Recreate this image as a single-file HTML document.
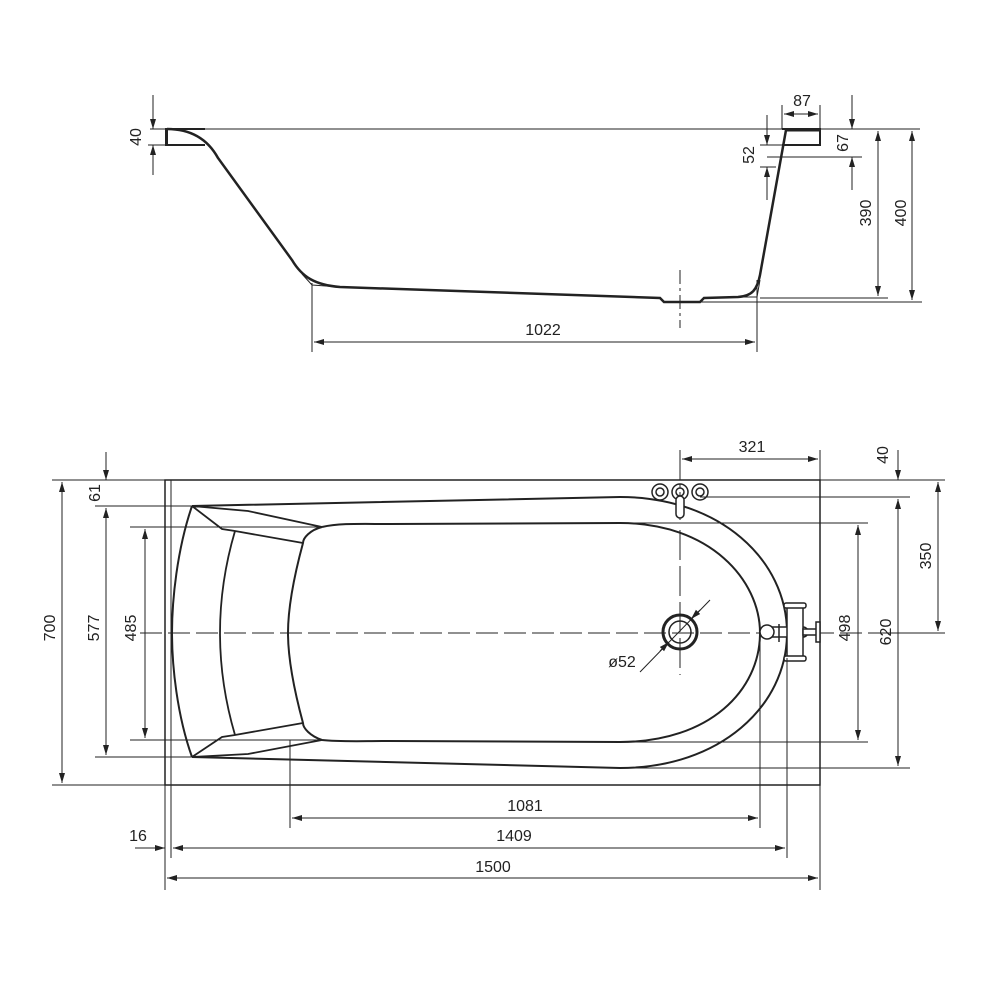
<!DOCTYPE html>
<html><head><meta charset="utf-8"><style>
html,body{margin:0;padding:0;background:#fff}
svg{display:block}
text{font-family:"Liberation Sans",sans-serif;font-size:16px;fill:#222}
</style></head><body>
<svg width="1000" height="1000" viewBox="0 0 1000 1000" xmlns="http://www.w3.org/2000/svg">
<defs>
<marker id="a" viewBox="0 0 10 10" refX="10" refY="5" markerWidth="10" markerHeight="10" markerUnits="userSpaceOnUse" orient="auto-start-reverse"><path d="M0,2 L10,5 L0,8 z" fill="#222"/></marker>
</defs>
<g stroke="#222" fill="none">
<g stroke-width="1">
<line x1="150" y1="129" x2="920" y2="129"/>
<line x1="148" y1="145" x2="165" y2="145"/>
<line x1="312" y1="283" x2="312" y2="352"/>
<line x1="757" y1="280" x2="757" y2="352"/>
<line x1="680" y1="270" x2="680" y2="328" stroke-dasharray="14,4,3,4"/>
<line x1="760" y1="298" x2="888" y2="298"/>
<line x1="700" y1="302" x2="922" y2="302"/>
<line x1="767" y1="157" x2="862" y2="157"/>
<line x1="820" y1="105" x2="820" y2="129"/>
<line x1="782" y1="105" x2="782" y2="129"/>
<line x1="760" y1="145" x2="782" y2="145"/>
<line x1="760" y1="167" x2="776" y2="167"/>
</g>
<path d="M165,129 L205,129 M165,145 L205,145" stroke-width="2"/>
<line x1="166.5" y1="129" x2="166.5" y2="145" stroke-width="3"/>
<path d="M782,129 L820,129 L820,145 L782,145" stroke-width="2"/>
<line x1="786" y1="130" x2="820" y2="130" stroke-width="3"/>
<path d="M167,129 C190,129 207,138 218,158 L292,260 C302,277 315,285 340,287 L660,298 L664,302 L700,302 L704,298 L738,297 C752,296 757,290 760,275 L786,130" stroke-width="2.5"/>
<path d="M302,274 L312,285 L340,287 M760,280 L757,297 L740,297" stroke-width="1"/>
<g stroke-width="1">
<line x1="153" y1="95" x2="153" y2="129" marker-end="url(#a)"/>
<line x1="153" y1="175" x2="153" y2="145" marker-end="url(#a)"/>
<line x1="784" y1="114" x2="818" y2="114" marker-start="url(#a)" marker-end="url(#a)"/>
<line x1="767" y1="115" x2="767" y2="145" marker-end="url(#a)"/>
<line x1="767" y1="200" x2="767" y2="167" marker-end="url(#a)"/>
<line x1="852" y1="95" x2="852" y2="129" marker-end="url(#a)"/>
<line x1="852" y1="190" x2="852" y2="157" marker-end="url(#a)"/>
<line x1="878" y1="131" x2="878" y2="296" marker-start="url(#a)" marker-end="url(#a)"/>
<line x1="912" y1="131" x2="912" y2="300" marker-start="url(#a)" marker-end="url(#a)"/>
<line x1="314" y1="342" x2="755" y2="342" marker-start="url(#a)" marker-end="url(#a)"/>
</g>

<rect x="165" y="480" width="655" height="305" stroke-width="1.5"/>
<line x1="171" y1="480" x2="171" y2="858" stroke-width="1"/>
<line x1="140" y1="633" x2="870" y2="633" stroke-width="1" stroke-dasharray="22,6"/>
<line x1="680" y1="450" x2="680" y2="520" stroke-width="1" stroke-dasharray="30,4,4,4"/>
<line x1="680" y1="530" x2="680" y2="675" stroke-width="1" stroke-dasharray="30,6"/>
<path d="M192,506 L620,497 C720,497 787,560 787,633 C787,706 720,768 620,768 L192,757" stroke-width="2"/>
<path d="M192,506 C177,550 172,600 172,633 C172,666 177,715 192,757" stroke-width="2"/>
<path d="M322,527 C340,523 360,524 390,524 L620,523 C710,523 760,580 760,633 C760,690 710,742 620,742 L390,741 C360,741 340,742 322,740" stroke-width="2"/>
<path d="M322,527 C310,530 303,538 303,543 C293,580 288,610 288,633 C288,656 293,686 303,723 C303,728 310,736 322,740" stroke-width="2"/>
<path d="M192,506 L248,511 L322,527 M192,506 L222,529 L235,531 L303,543 M235,531 C225,565 220,600 220,633 C220,666 225,701 235,735 M192,757 L248,754 L322,740 M192,757 L222,737 L235,735 L303,723" stroke-width="1.8"/>
<circle cx="680" cy="632" r="17" stroke-width="3"/>
<circle cx="680" cy="632" r="11" stroke-width="1.5"/>
<line x1="640" y1="672" x2="710" y2="600" stroke-width="1"/>
<line x1="660" y1="651" x2="669" y2="642" stroke-width="1" marker-end="url(#a)"/>
<line x1="700" y1="610" x2="691" y2="619" stroke-width="1" marker-end="url(#a)"/>
<g stroke-width="1.5">
<circle cx="660" cy="492" r="8"/><circle cx="660" cy="492" r="4"/>
<circle cx="700" cy="492" r="8"/><circle cx="700" cy="492" r="4"/>
<circle cx="680" cy="492" r="8"/><circle cx="680" cy="492" r="4"/>
<rect x="676" y="496" width="8" height="22" rx="4" fill="#fff"/>
</g>
<g stroke-width="1.5">
<rect x="764" y="627" width="44" height="10" rx="5" fill="#fff"/>
<circle cx="767" cy="632" r="7" fill="#fff"/>
<rect x="787" y="606" width="16" height="52" fill="#fff"/>
<rect x="784" y="603" width="22" height="5" rx="2" fill="#fff"/>
<rect x="784" y="656" width="22" height="5" rx="2" fill="#fff"/>
<rect x="803" y="629" width="15" height="6" fill="#fff"/>
<rect x="816" y="622" width="4" height="20" fill="#fff"/>
<line x1="779" y1="624" x2="779" y2="642"/>
</g>
<g stroke-width="1">
<line x1="820" y1="450" x2="820" y2="890"/>
<line x1="820" y1="480" x2="945" y2="480"/>
<line x1="700" y1="497" x2="910" y2="497"/>
<line x1="870" y1="633" x2="945" y2="633"/>
<line x1="620" y1="523" x2="868" y2="523"/>
<line x1="620" y1="742" x2="868" y2="742"/>
<line x1="620" y1="768" x2="910" y2="768"/>
<line x1="52" y1="480" x2="165" y2="480"/>
<line x1="52" y1="785" x2="165" y2="785"/>
<line x1="95" y1="506" x2="192" y2="506"/>
<line x1="95" y1="757" x2="192" y2="757"/>
<line x1="130" y1="527" x2="322" y2="527"/>
<line x1="130" y1="740" x2="322" y2="740"/>
<line x1="290" y1="740" x2="290" y2="828"/>
<line x1="760" y1="640" x2="760" y2="828"/>
<line x1="787" y1="658" x2="787" y2="858"/>
<line x1="165" y1="785" x2="165" y2="890"/>
</g>
<g stroke-width="1">
<line x1="682" y1="459" x2="818" y2="459" marker-start="url(#a)" marker-end="url(#a)"/>
<line x1="898" y1="450" x2="898" y2="480" marker-end="url(#a)"/>
<line x1="898" y1="499" x2="898" y2="766" marker-start="url(#a)" marker-end="url(#a)"/>
<line x1="938" y1="482" x2="938" y2="631" marker-start="url(#a)" marker-end="url(#a)"/>
<line x1="858" y1="525" x2="858" y2="740" marker-start="url(#a)" marker-end="url(#a)"/>
<line x1="62" y1="482" x2="62" y2="783" marker-start="url(#a)" marker-end="url(#a)"/>
<line x1="106" y1="452" x2="106" y2="480" marker-end="url(#a)"/>
<line x1="106" y1="508" x2="106" y2="755" marker-start="url(#a)" marker-end="url(#a)"/>
<line x1="145" y1="529" x2="145" y2="738" marker-start="url(#a)" marker-end="url(#a)"/>
<line x1="292" y1="818" x2="758" y2="818" marker-start="url(#a)" marker-end="url(#a)"/>
<line x1="173" y1="848" x2="785" y2="848" marker-start="url(#a)" marker-end="url(#a)"/>
<line x1="135" y1="848" x2="165" y2="848" marker-end="url(#a)"/>
<line x1="167" y1="878" x2="818" y2="878" marker-start="url(#a)" marker-end="url(#a)"/>
</g>
</g>

<g>
<text x="543" y="335" text-anchor="middle">1022</text>
<text x="802" y="106" text-anchor="middle">87</text>
<text transform="translate(141,137) rotate(-90)" text-anchor="middle">40</text>
<text transform="translate(754,155) rotate(-90)" text-anchor="middle">52</text>
<text transform="translate(848,143) rotate(-90)" text-anchor="middle">67</text>
<text transform="translate(871,213) rotate(-90)" text-anchor="middle">390</text>
<text transform="translate(906,213) rotate(-90)" text-anchor="middle">400</text>

<text x="752" y="452" text-anchor="middle">321</text>
<text transform="translate(888,455) rotate(-90)" text-anchor="middle">40</text>
<text transform="translate(931,556) rotate(-90)" text-anchor="middle">350</text>
<text transform="translate(891,632) rotate(-90)" text-anchor="middle">620</text>
<text transform="translate(850,628) rotate(-90)" text-anchor="middle">498</text>
<text transform="translate(55,628) rotate(-90)" text-anchor="middle">700</text>
<text transform="translate(100,493) rotate(-90)" text-anchor="middle">61</text>
<text transform="translate(99,628) rotate(-90)" text-anchor="middle">577</text>
<text transform="translate(136,628) rotate(-90)" text-anchor="middle">485</text>
<text x="622" y="667" text-anchor="middle">ø52</text>
<text x="525" y="811" text-anchor="middle">1081</text>
<text x="514" y="841" text-anchor="middle">1409</text>
<text x="138" y="841" text-anchor="middle">16</text>
<text x="493" y="872" text-anchor="middle">1500</text>
</g>
</svg>
</body></html>
